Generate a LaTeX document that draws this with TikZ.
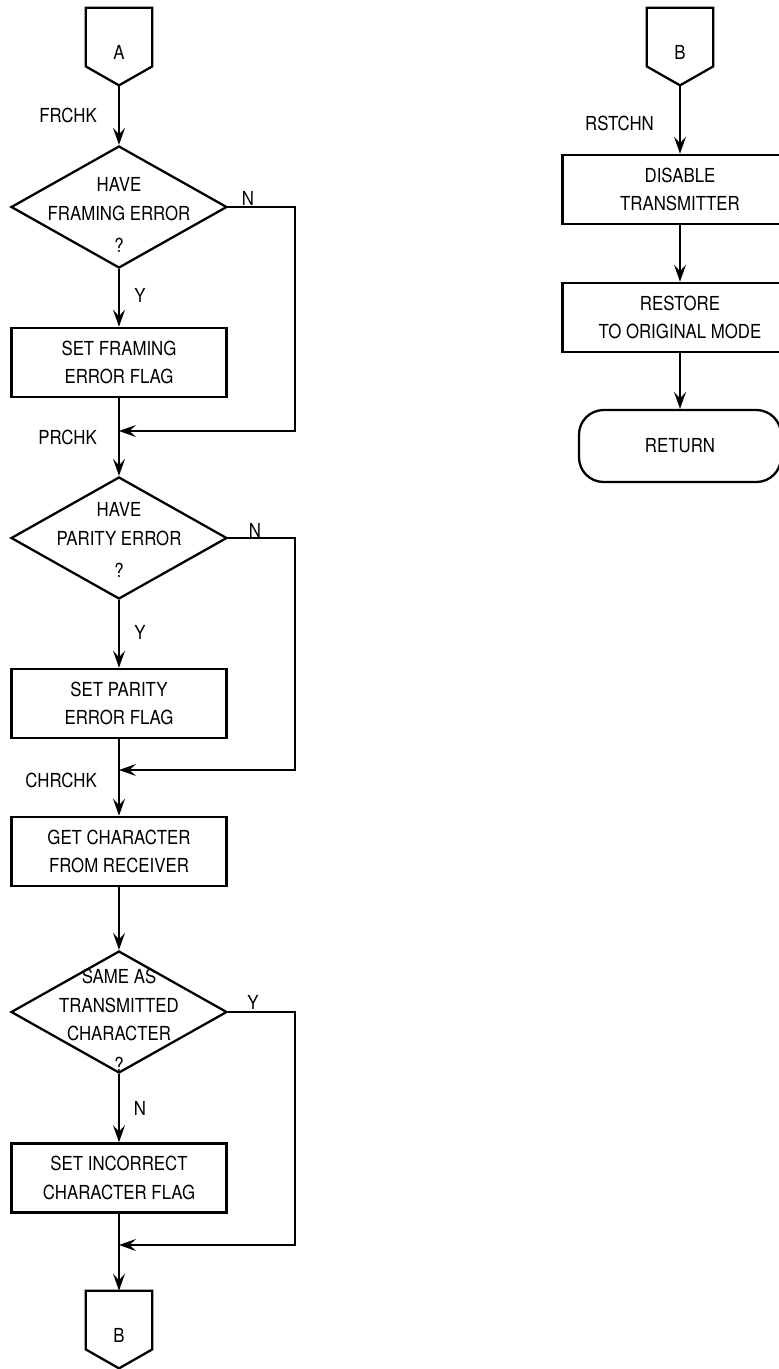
\documentclass[tikz,border=0pt]{standalone}
\usepackage{fontspec}
\setmainfont{TeX Gyre Heros}[FakeStretch=0.87]
\usetikzlibrary{arrows.meta,positioning,calc,shapes.geometric}
\newcommand{\boxfont}{\fontsize{11}{16.3}\selectfont}
\tikzset{
  flow/.style={-{Stealth[length=3.4mm,width=2.4mm,inset=1.3mm]}, line width=0.8pt},
  proc/.style={draw, line width=1.5pt, minimum width=4.3cm, minimum height=1.38cm,
              inner sep=0pt, align=center, font=\boxfont},
  dec/.style={diamond, draw, line width=1.3pt, minimum width=4.32cm, minimum height=2.44cm,
              inner sep=0pt},
  dtext/.style={align=center, font=\boxfont},
  pg/.style={minimum width=1.32cm, minimum height=1.54cm, inner sep=0pt,
              text height=0.5cm, text depth=0pt, font=\boxfont},
  pgline/.style={line width=1.3pt, line join=miter},
  term/.style={draw, line width=1.3pt, rounded corners=14pt, minimum width=4.04cm,
              minimum height=1.44cm, font=\boxfont},
  lbl/.style={font=\boxfont, anchor=east},
  yn/.style={font=\boxfont},
}
\begin{document}
\begin{tikzpicture}
    \useasboundingbox (0,0) rectangle (15.58,-27.38);
    % left chart
    \node[pg] (pgA) at (2.38,-0.93) {A};
    \node[dec] (d1) at (2.38,-4.14) {};
    \node[dtext] (t1) at (2.38,-4.30) {HAVE\\FRAMING ERROR\\[2pt]?};
    \node[proc] (b1) at (2.38,-7.25) {SET FRAMING\\ERROR FLAG};
    \coordinate (j1) at (2.38,-8.62);
    \coordinate (r1) at (5.9,-8.62);
    \node[dec] (d2) at (2.38,-10.76) {};
    \node[dtext] (t2) at (2.38,-10.80) {HAVE\\PARITY ERROR\\[2pt]?};
    \node[proc] (b2) at (2.38,-14.07) {SET PARITY\\ERROR FLAG};
    \coordinate (j2) at (2.38,-15.40);
    \coordinate (r2) at (5.9,-15.40);
    \node[proc] (b3) at (2.38,-17.03) {GET CHARACTER\\FROM RECEIVER};
    \node[dec] (d3) at (2.38,-20.24) {};
    \node[dtext] (t3) at (2.38,-20.40) {SAME AS\\TRANSMITTED\\CHARACTER\\[1pt]?};
    \node[proc] (b4) at (2.38,-23.56) {SET INCORRECT\\CHARACTER FLAG};
    \coordinate (j3) at (2.38,-24.90);
    \coordinate (r3) at (5.9,-24.90);
    \node[pg] (pgBout) at (2.38,-26.59) {B};
    % right chart
    \node[pg] (pgBin) at (13.60,-0.93) {B};
    \node[proc, minimum width=4.7cm] (rb1) at (13.60,-3.79) {DISABLE\\TRANSMITTER};
    \node[proc, minimum width=4.7cm] (rb2) at (13.60,-6.35) {RESTORE\\TO ORIGINAL MODE};
    \node[term] (ret) at (13.60,-8.92) {RETURN};

    \foreach \p in {pgA,pgBout,pgBin}
      \draw[pgline] (\p.north west) -- (\p.north east) -- ($(\p.south east)+(0,0.38)$)
        -- (\p.south) -- ($(\p.south west)+(0,0.38)$) -- cycle;

    \draw[flow] (pgA.south) -- (d1.north);
    \draw[flow] (d1.south) -- (b1.north);
    \draw[flow] (d1.east) -| (r1) -- (j1);
    \draw[flow] (b1.south) -- (d2.north);
    \draw[flow] (d2.south) -- (b2.north);
    \draw[flow] (d2.east) -| (r2) -- (j2);
    \draw[flow, line width=1.2pt] (b2.south) -- (b3.north);
    \draw[flow] (b3.south) -- (d3.north);
    \draw[flow] (d3.east) -| (r3) -- (j3);
    \draw[flow] (d3.south) -- (b4.north);
    \draw[flow] (b4.south) -- (pgBout.north);
    \draw[flow] (pgBin.south) -- (rb1.north);
    \draw[flow] (rb1.south) -- (rb2.north);
    \draw[flow] (rb2.south) -- (ret.north);

    \node[lbl] (lFR) at (2.06,-2.30) {FRCHK};
    \node[lbl] (lPR) at (2.06,-8.74) {PRCHK};
    \node[lbl] (lCH) at (2.06,-15.60) {CHRCHK};
    \node[lbl] (lRS) at (13.20,-2.46) {RSTCHN};
    \node[yn] (n1) at (4.96,-3.96) {N};
    \node[yn] (y1) at (2.80,-5.90) {Y};
    \node[yn] (n2) at (5.10,-10.60) {N};
    \node[yn] (y2) at (2.80,-12.64) {Y};
    \node[yn] (y3) at (5.06,-20.04) {Y};
    \node[yn] (n3) at (2.80,-22.16) {N};
  \end{tikzpicture}
\end{document}
